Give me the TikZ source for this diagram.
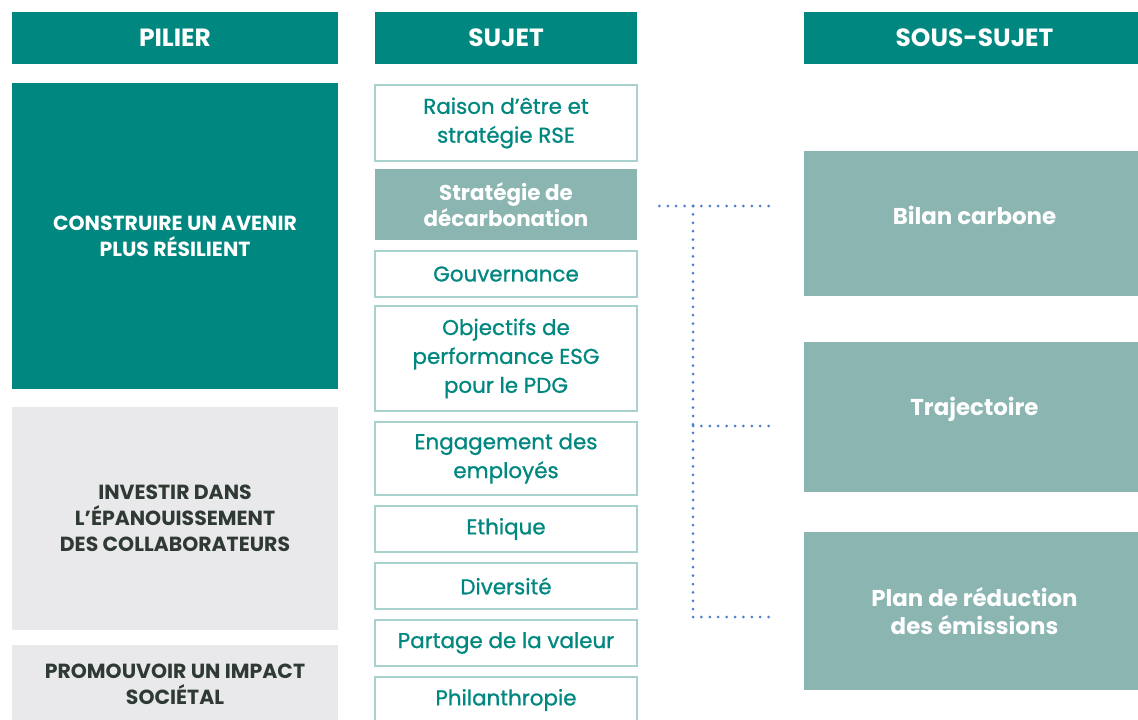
\documentclass[tikz,border=0pt]{standalone}
\usepackage{fontspec}
\setmainfont{Poppins}
\newfontfamily\medfont{Poppins}[FakeBold=0.9]
\definecolor{headteal}{HTML}{00877F}
\definecolor{softteal}{HTML}{8BB5B1}
\definecolor{softgray}{HTML}{E9E9EC}
\definecolor{darktext}{HTML}{2E3A33}
\definecolor{edgeteal}{HTML}{A9D2CF}
\definecolor{dotblue}{HTML}{4C7FCB}
\begin{document}
\begin{tikzpicture}[x=1bp,y=-1bp,
  every node/.style={inner sep=0pt,outer sep=0pt,align=center},
  head/.style={fill=headteal,text=white,font=\fontsize{25}{30}\selectfont\bfseries,minimum height=52bp},
  pilier/.style={fill=headteal,text=white,font=\fontsize{20.5}{26}\selectfont\bfseries,minimum width=326bp},
  pilsoft/.style={pilier,fill=softgray,text=darktext},
  sujet/.style={draw=edgeteal,line width=1.4bp,fill=white,text=headteal,font=\fontsize{21.5}{29}\medfont,minimum width=262bp},
  sujetsel/.style={sujet,draw=none,fill=softteal,text=white,font=\fontsize{21.5}{26}\selectfont\bfseries},
  sous/.style={fill=softteal,text=white,font=\fontsize{23}{28}\selectfont\bfseries,minimum width=341bp},
  link/.style={dotblue,line width=3bp,line cap=round,dash pattern=on 0pt off 8.4bp}]
\useasboundingbox (0,0) rectangle (1138,720);
\clip (0,0) rectangle (1138,720);
%
% headers
\node[head,minimum width=326bp] (hpil) at (175,38) {PILIER};
\node[head,minimum width=262bp] (hsuj) at (506,38) {SUJET};
\node[head,minimum width=341bp] (hsous) at (974.5,38) {SOUS-SUJET};
%
% piliers
\node[pilier,minimum height=306bp] (p1) at (175,236) {CONSTRUIRE UN AVENIR\\PLUS RÉSILIENT};
\node[pilsoft,minimum height=223bp] (p2) at (175,518.5) {INVESTIR DANS\\L’ÉPANOUISSEMENT\\DES COLLABORATEURS};
\node[pilsoft,minimum height=78bp] (p3) at (175,684) {PROMOUVOIR UN IMPACT\\SOCIÉTAL};
%
% sujets
\node[sujet,minimum height=76bp] (s1) at (506,123) {Raison d’être et\\stratégie RSE};
\node[sujetsel,minimum height=71bp] (s2) at (506,204.5) {Stratégie de\\décarbonation};
\node[sujet,minimum height=46bp] (s3) at (506,274) {Gouvernance};
\node[sujet,minimum height=105bp] (s4) at (506,358.5) {Objectifs de\\performance ESG\\pour le PDG};
\node[sujet,minimum height=73bp] (s5) at (506,458.5) {Engagement des\\employés};
\node[sujet,minimum height=46bp] (s6) at (506,529) {Ethique};
\node[sujet,minimum height=46bp] (s7) at (506,586) {Diversité};
\node[sujet,minimum height=46bp] (s8) at (506,643) {Partage de la valeur};
\node[sujet,minimum height=46bp] (s9) at (506,700) {Philanthropie};
%
% sous-sujets
\node[sous,minimum height=145bp,text depth=16bp] (ss1) at (974.5,223.5) {Bilan carbone};
\node[sous,minimum height=150bp,text depth=22bp] (ss2) at (974.5,417) {Trajectoire};
\node[sous,minimum height=158bp] (ss3) at (974.5,611) {Plan de réduction\\des émissions};
%
% liens
\coordinate (jn) at (693,206);
\draw[link,shorten >=18bp] (jn) -- (s2.east |- jn);
\draw[link,shorten >=31bp] (jn) -- (ss1.west |- jn);
\draw[link] (jn) -- (jn |- 0,617);
\draw[link,shorten >=31bp] (jn |- 0,426) -- (ss2.west |- 0,426);
\draw[link,shorten >=31bp] (jn |- 0,617) -- (ss3.west |- 0,617);
%
\end{tikzpicture}
\end{document}
